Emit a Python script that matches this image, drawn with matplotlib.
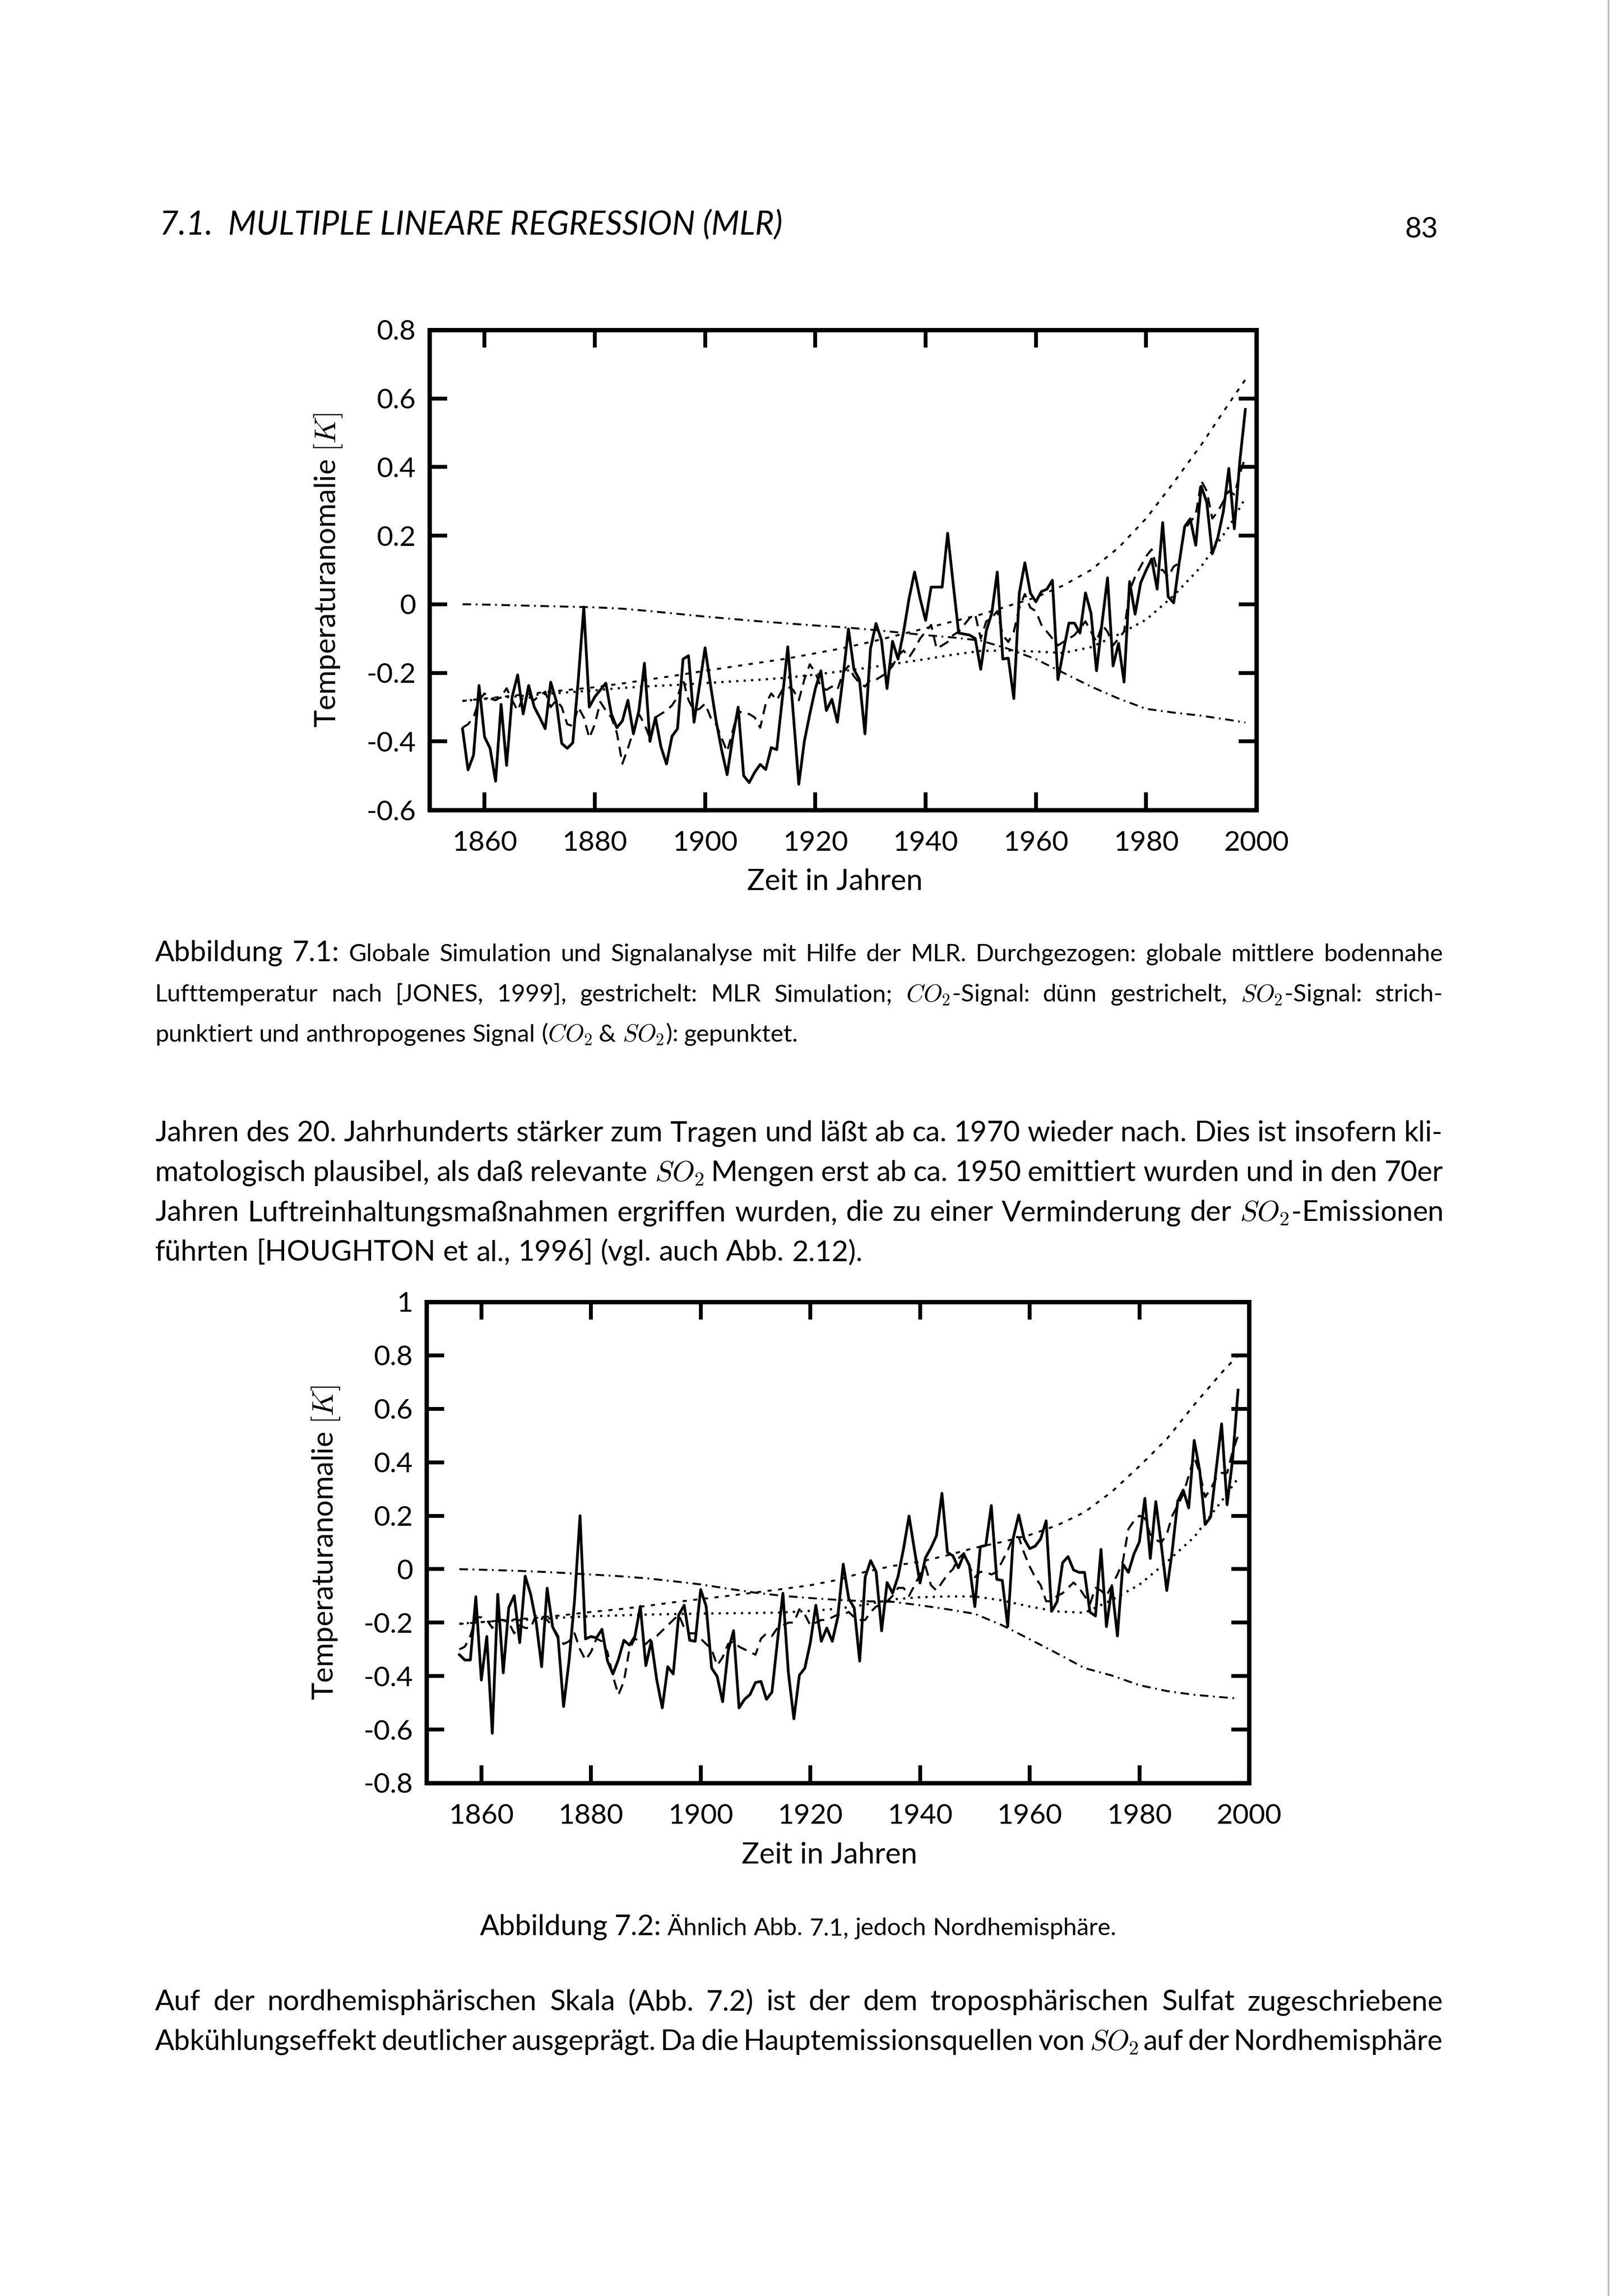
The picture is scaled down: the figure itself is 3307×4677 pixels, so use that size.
import matplotlib
matplotlib.use("Agg")
import matplotlib.pyplot as plt
import numpy as np

# ---------------- data ----------------
years = np.arange(1856, 1999)

# Abb. 7.1, global: observed (Jones 1999) and MLR simulation
glob_obs = [-0.363, -0.483, -0.44, -0.237, -0.387, -0.42, -0.516, -0.292, -0.47, -0.27,
            -0.206, -0.32, -0.237, -0.299, -0.33, -0.363, -0.227, -0.282, -0.406, -0.42,
            -0.404, -0.22, -0.008, -0.30, -0.27, -0.25, -0.23, -0.32, -0.36, -0.34,
            -0.28, -0.378, -0.31, -0.172, -0.40, -0.33, -0.416, -0.466, -0.385, -0.363,
            -0.16, -0.15, -0.344, -0.235, -0.127, -0.237, -0.34, -0.425, -0.497, -0.39,
            -0.30, -0.50, -0.52, -0.49, -0.467, -0.482, -0.418, -0.424, -0.277, -0.124,
            -0.32, -0.525, -0.40, -0.32, -0.246, -0.194, -0.31, -0.277, -0.344, -0.216,
            -0.072, -0.19, -0.22, -0.378, -0.13, -0.056, -0.105, -0.246, -0.108, -0.16,
            -0.081, 0.017, 0.094, 0.017, -0.047, 0.05, 0.05, 0.05, 0.207, 0.06,
            -0.084, -0.087, -0.09, -0.10, -0.19, -0.078, -0.026, 0.094, -0.16, -0.157,
            -0.275, 0.033, 0.121, 0.033, 0.007, 0.037, 0.044, 0.07, -0.22, -0.135,
            -0.055, -0.055, -0.084, 0.033, -0.026, -0.194, -0.055, 0.077, -0.18, -0.114,
            -0.227, 0.066, -0.029, 0.062, 0.099, 0.132, 0.044, 0.238, 0.022, 0.004,
            0.121, 0.227, 0.249, 0.172, 0.344, 0.297, 0.147, 0.194, 0.27, 0.396,
            0.22, 0.418, 0.568]
glob_mlr = [-0.36, -0.35, -0.33, -0.28, -0.26, -0.275, -0.28, -0.27, -0.245, -0.28,
            -0.31, -0.27, -0.27, -0.28, -0.265, -0.255, -0.30, -0.28, -0.30, -0.35,
            -0.355, -0.30, -0.33, -0.39, -0.35, -0.285, -0.31, -0.33, -0.375, -0.465,
            -0.42, -0.37, -0.32, -0.35, -0.39, -0.33, -0.32, -0.31, -0.295, -0.27,
            -0.22, -0.28, -0.31, -0.305, -0.29, -0.33, -0.35, -0.39, -0.43, -0.37,
            -0.31, -0.32, -0.32, -0.33, -0.36, -0.29, -0.26, -0.28, -0.25, -0.24,
            -0.25, -0.28, -0.22, -0.175, -0.20, -0.24, -0.25, -0.24, -0.25, -0.20,
            -0.18, -0.21, -0.23, -0.24, -0.22, -0.22, -0.21, -0.20, -0.18, -0.15,
            -0.135, -0.155, -0.13, -0.10, -0.08, -0.06, -0.13, -0.12, -0.11, -0.09,
            -0.08, -0.06, -0.04, -0.03, -0.10, -0.05, -0.04, -0.02, -0.09, -0.11,
            -0.08, -0.01, 0.03, -0.01, -0.02, -0.06, -0.08, -0.10, -0.12, -0.11,
            -0.10, -0.09, -0.07, -0.05, -0.08, -0.11, -0.06, -0.08, -0.12, -0.10,
            -0.08, 0.04, 0.08, 0.11, 0.14, 0.16, 0.10, 0.10, 0.08, 0.11,
            0.12, 0.22, 0.24, 0.26, 0.36, 0.33, 0.25, 0.27, 0.30, 0.33,
            0.32, 0.38, 0.43]

# Abb. 7.2, northern hemisphere
nh_obs = [-0.32, -0.34, -0.34, -0.103, -0.415, -0.252, -0.614, -0.094, -0.388, -0.144,
          -0.099, -0.275, -0.026, -0.094, -0.198, -0.365, -0.071, -0.216, -0.257, -0.514,
          -0.343, -0.117, 0.20, -0.261, -0.252, -0.257, -0.225, -0.343, -0.392, -0.338,
          -0.266, -0.284, -0.252, -0.139, -0.361, -0.27, -0.415, -0.519, -0.365, -0.392,
          -0.171, -0.135, -0.266, -0.27, -0.076, -0.139, -0.37, -0.401, -0.496, -0.307,
          -0.23, -0.519, -0.487, -0.469, -0.424, -0.42, -0.487, -0.46, -0.27, -0.09,
          -0.388, -0.56, -0.397, -0.37, -0.275, -0.135, -0.27, -0.22, -0.27, -0.18,
          0.019, -0.11, -0.145, -0.344, -0.03, 0.032, -0.010, -0.231, -0.05, -0.09,
          -0.027, 0.077, 0.199, 0.07, -0.052, 0.043, 0.08, 0.125, 0.284, 0.063,
          0.05, 0.005, 0.055, 0.015, -0.14, 0.084, 0.089, 0.238, -0.038, -0.042,
          -0.214, 0.117, 0.203, 0.113, 0.077, 0.086, 0.113, 0.181, -0.158, -0.122,
          0.024, 0.047, -0.003, -0.012, -0.012, -0.161, -0.175, 0.074, -0.215, -0.066,
          -0.25, 0.019, -0.012, 0.056, 0.102, 0.265, 0.04, 0.253, 0.091, -0.08,
          0.069, 0.255, 0.296, 0.229, 0.482, 0.37, 0.167, 0.195, 0.372, 0.544,
          0.241, 0.409, 0.67]
nh_mlr = [-0.30, -0.29, -0.25, -0.18, -0.18, -0.19, -0.22, -0.19, -0.19, -0.20,
          -0.24, -0.21, -0.22, -0.22, -0.17, -0.175, -0.19, -0.215, -0.25, -0.28,
          -0.27, -0.24, -0.30, -0.34, -0.31, -0.26, -0.27, -0.31, -0.40, -0.47,
          -0.42, -0.30, -0.26, -0.27, -0.28, -0.26, -0.25, -0.23, -0.21, -0.19,
          -0.17, -0.22, -0.24, -0.24, -0.26, -0.28, -0.30, -0.36, -0.33, -0.28,
          -0.27, -0.29, -0.30, -0.31, -0.32, -0.26, -0.24, -0.25, -0.22, -0.21,
          -0.20, -0.20, -0.15, -0.17, -0.21, -0.20, -0.19, -0.19, -0.18, -0.17,
          -0.17, -0.16, -0.18, -0.19, -0.19, -0.16, -0.14, -0.13, -0.12, -0.10,
          -0.07, -0.07, -0.10, -0.06, -0.02, 0.01, -0.06, -0.08, -0.05, -0.02,
          0.00, 0.04, 0.06, 0.01, -0.03, -0.01, -0.01, -0.02, -0.01, 0.03,
          0.07, 0.12, 0.12, 0.06, 0.01, -0.03, -0.06, -0.12, -0.12, -0.10,
          -0.09, -0.07, -0.05, -0.07, -0.10, -0.13, -0.07, -0.08, -0.10, -0.06,
          -0.02, 0.03, 0.15, 0.18, 0.20, 0.19, 0.13, 0.11, 0.10, 0.13,
          0.20, 0.24, 0.28, 0.35, 0.42, 0.36, 0.27, 0.30, 0.34, 0.36,
          0.36, 0.44, 0.50]

# smooth signal curves, read every 5 years
curve_years = [1856, 1860, 1865, 1870, 1875, 1880, 1885, 1890, 1895, 1900,
               1905, 1910, 1915, 1920, 1925, 1930, 1935, 1940, 1945, 1950,
               1955, 1960, 1965, 1970, 1975, 1980, 1985, 1990, 1995, 1998]
glob_co2 = [-0.282, -0.275, -0.267, -0.258, -0.25, -0.242, -0.231, -0.219, -0.207, -0.194,
            -0.182, -0.17, -0.158, -0.143, -0.128, -0.11, -0.09, -0.07, -0.05, -0.03,
            -0.005, 0.02, 0.055, 0.10, 0.165, 0.25, 0.355, 0.465, 0.585, 0.655]
glob_so2 = [0.0, -0.001, -0.003, -0.005, -0.007, -0.009, -0.013, -0.02, -0.028, -0.036,
            -0.043, -0.05, -0.056, -0.062, -0.067, -0.074, -0.082, -0.09, -0.097, -0.106,
            -0.13, -0.16, -0.2, -0.24, -0.275, -0.305, -0.316, -0.325, -0.337, -0.345]
glob_anthro = [-0.282, -0.276, -0.27, -0.263, -0.257, -0.251, -0.244, -0.239, -0.235, -0.23,
               -0.225, -0.22, -0.214, -0.205, -0.195, -0.184, -0.172, -0.16, -0.147, -0.136,
               -0.135, -0.138, -0.142, -0.125, -0.088, -0.045, 0.025, 0.11, 0.225, 0.31]
nh_co2 = [-0.205, -0.198, -0.19, -0.182, -0.172, -0.16, -0.15, -0.138, -0.124, -0.112,
          -0.1, -0.087, -0.074, -0.06, -0.04, -0.01, 0.012, 0.028, 0.052, 0.08,
          0.102, 0.128, 0.164, 0.213, 0.29, 0.385, 0.487, 0.615, 0.735, 0.80]
nh_so2 = [0.0, -0.002, -0.005, -0.009, -0.014, -0.02, -0.026, -0.034, -0.045, -0.057,
          -0.073, -0.088, -0.1, -0.108, -0.115, -0.12, -0.122, -0.135, -0.15, -0.167,
          -0.21, -0.262, -0.315, -0.37, -0.398, -0.434, -0.456, -0.47, -0.479, -0.484]
nh_anthro = [-0.204, -0.198, -0.193, -0.187, -0.181, -0.176, -0.173, -0.17, -0.168, -0.166,
             -0.165, -0.164, -0.162, -0.156, -0.148, -0.133, -0.113, -0.105, -0.102, -0.102,
             -0.117, -0.14, -0.158, -0.163, -0.115, -0.058, 0.027, 0.12, 0.255, 0.34]

xticks = [1860, 1880, 1900, 1920, 1940, 1960, 1980, 2000]
glob_yticks = [-0.6, -0.4, -0.2, 0, 0.2, 0.4, 0.6, 0.8]
glob_ylabels = ["-0.6", "-0.4", "-0.2", "0", "0.2", "0.4", "0.6", "0.8"]
nh_yticks = [-0.8, -0.6, -0.4, -0.2, 0, 0.2, 0.4, 0.6, 0.8, 1]
nh_ylabels = ["-0.8", "-0.6", "-0.4", "-0.2", "0", "0.2", "0.4", "0.6", "0.8", "1"]

# ---------------- page text ----------------
HEADER = "7.1.  MULTIPLE LINEARE REGRESSION (MLR)"
PAGE_NO = "83"
CAPTION1 = [
    "Abbildung 7.1: Globale Simulation und Signalanalyse mit Hilfe der MLR. Durchgezogen: globale mittlere bodennahe",
    "Lufttemperatur nach [JONES, 1999], gestrichelt: MLR Simulation; $CO_2$-Signal: dünn gestrichelt, $SO_2$-Signal: strich-",
    "punktiert und anthropogenes Signal ($CO_2$ & $SO_2$): gepunktet.",
]
PARA1 = [
    "Jahren des 20. Jahrhunderts stärker zum Tragen und läßt ab ca. 1970 wieder nach. Dies ist insofern kli-",
    "matologisch plausibel, als daß relevante $SO_2$ Mengen erst ab ca. 1950 emittiert wurden und in den 70er",
    "Jahren Luftreinhaltungsmaßnahmen ergriffen wurden, die zu einer Verminderung der $SO_2$-Emissionen",
    "führten [HOUGHTON et al., 1996] (vgl. auch Abb. 2.12).",
]
CAPTION2 = "Abbildung 7.2: Ähnlich Abb. 7.1, jedoch Nordhemisphäre."
PARA2 = [
    "Auf der nordhemisphärischen Skala (Abb. 7.2) ist der dem troposphärischen Sulfat zugeschriebene",
    "Abkühlungseffekt deutlicher ausgeprägt. Da die Hauptemissionsquellen von $SO_2$ auf der Nordhemisphäre",
]

# ---------------- figure ----------------
W, H, DPI = 3307, 4677, 400
plt.rcParams["font.family"] = ["Lato", "DejaVu Sans"]
plt.rcParams["mathtext.fontset"] = "cm"
plt.rcParams["axes.unicode_minus"] = False

fig = plt.figure(figsize=(W / DPI, H / DPI), dpi=DPI)
fig.patch.set_facecolor("white")

# page layer in pixel units, y pointing down
page = fig.add_axes([0, 0, 1, 1])
page.set_xlim(0, W)
page.set_ylim(H, 0)
page.axis("off")

BODY, SMALL = 10.5, 8.9
LEFT, RIGHT = 316, 2940
renderer = fig.canvas.get_renderer()


def place_line(tokens, base, mode="justify", x0=LEFT, x1=RIGHT):
    texts = [page.text(0, base, w, fontsize=s, ha="left", va="baseline") for w, s in tokens]
    widths = [t.get_window_extent(renderer).width for t in texts]
    space = 0.26 * tokens[-1][1] * DPI / 72
    total = sum(widths)
    n = len(texts)
    if mode == "justify" and n > 1:
        gap = (x1 - x0 - total) / (n - 1)
        min_gap = 0.6 * space
        if gap < min_gap:
            # line too long for the font: shrink it a little until it fits
            k = (x1 - x0 - min_gap * (n - 1)) / total
            for t, (w, s) in zip(texts, tokens):
                t.set_fontsize(s * k)
            widths = [t.get_window_extent(renderer).width for t in texts]
            gap = (x1 - x0 - sum(widths)) / (n - 1)
        x = x0
    elif mode == "center":
        gap = space
        x = (x0 + x1) / 2 - (total + space * (n - 1)) / 2
    else:
        gap, x = space, x0
    for t, w in zip(texts, widths):
        t.set_x(x)
        x += w + gap


def paragraph(lines, first_base, step, size, last_left=True, big_words=0):
    for i, line in enumerate(lines):
        words = line.split()
        tokens = [(w, BODY if j < big_words and i == 0 else size) for j, w in enumerate(words)]
        mode = "left" if (last_left and i == len(lines) - 1) else "justify"
        place_line(tokens, first_base + i * step, mode)


page.text(325, 478, HEADER, fontsize=12, style="italic", ha="left", va="baseline")
page.text(2930, 484, PAGE_NO, fontsize=BODY, ha="right", va="baseline")
paragraph(CAPTION1, 1958, 82, SMALL, big_words=2)
paragraph(PARA1, 2325, 81, BODY)
place_line([(w, BODY if j < 2 else SMALL) for j, w in enumerate(CAPTION2.split())],
           3942, mode="center", x0=LEFT, x1=2936)
paragraph(PARA2, 4095, 81, BODY, last_left=False)

# scan border at the right edge of the page
page.axvline(3277, color="0.72", lw=0.6)


def rect(left, top, right, bottom):
    return [left / W, 1 - bottom / H, (right - left) / W, (bottom - top) / H]


def panel(box, obs, mlr, co2, so2, anthro, ylim, yticks, ylabels):
    ax = fig.add_axes(rect(*box))
    ax.plot(years, obs, color="black", lw=1.0)
    ax.plot(years, mlr, color="black", lw=0.75, dashes=(5, 3.2))
    ax.plot(curve_years, co2, color="black", lw=0.7, dashes=(2.2, 3.4))
    ax.plot(curve_years, so2, color="black", lw=0.7, dashes=(4.5, 2.4, 0.9, 2.4))
    ax.plot(curve_years, anthro, color="black", lw=0.8, dashes=(1, 2.4))
    ax.set_xlim(1850, 2000)
    ax.set_ylim(*ylim)
    ax.set_xticks(xticks)
    ax.set_yticks(yticks)
    ax.set_yticklabels(ylabels)
    ax.tick_params(direction="in", length=6.5, width=1.4, top=True, right=True,
                   labelsize=10.3, pad=5)
    ax.tick_params(axis="x", pad=7.5)
    for s in ax.spines.values():
        s.set_linewidth(1.6)
    ax.set_xlabel("Zeit in Jahren", fontsize=10.8)
    ax.set_ylabel("Temperaturanomalie $[K]$", fontsize=10.8)
    ax.xaxis.set_label_coords(0.49, -0.122)
    ax.yaxis.set_label_coords(-0.103, 0.5)
    return ax


panel((875, 672, 2560, 1650), glob_obs, glob_mlr, glob_co2, glob_so2, glob_anthro,
      (-0.6, 0.8), glob_yticks, glob_ylabels)
panel((869, 2652, 2545, 3632), nh_obs, nh_mlr, nh_co2, nh_so2, nh_anthro,
      (-0.8, 1.0), nh_yticks, nh_ylabels)

fig.savefig("out.png", dpi=DPI, facecolor="white")
